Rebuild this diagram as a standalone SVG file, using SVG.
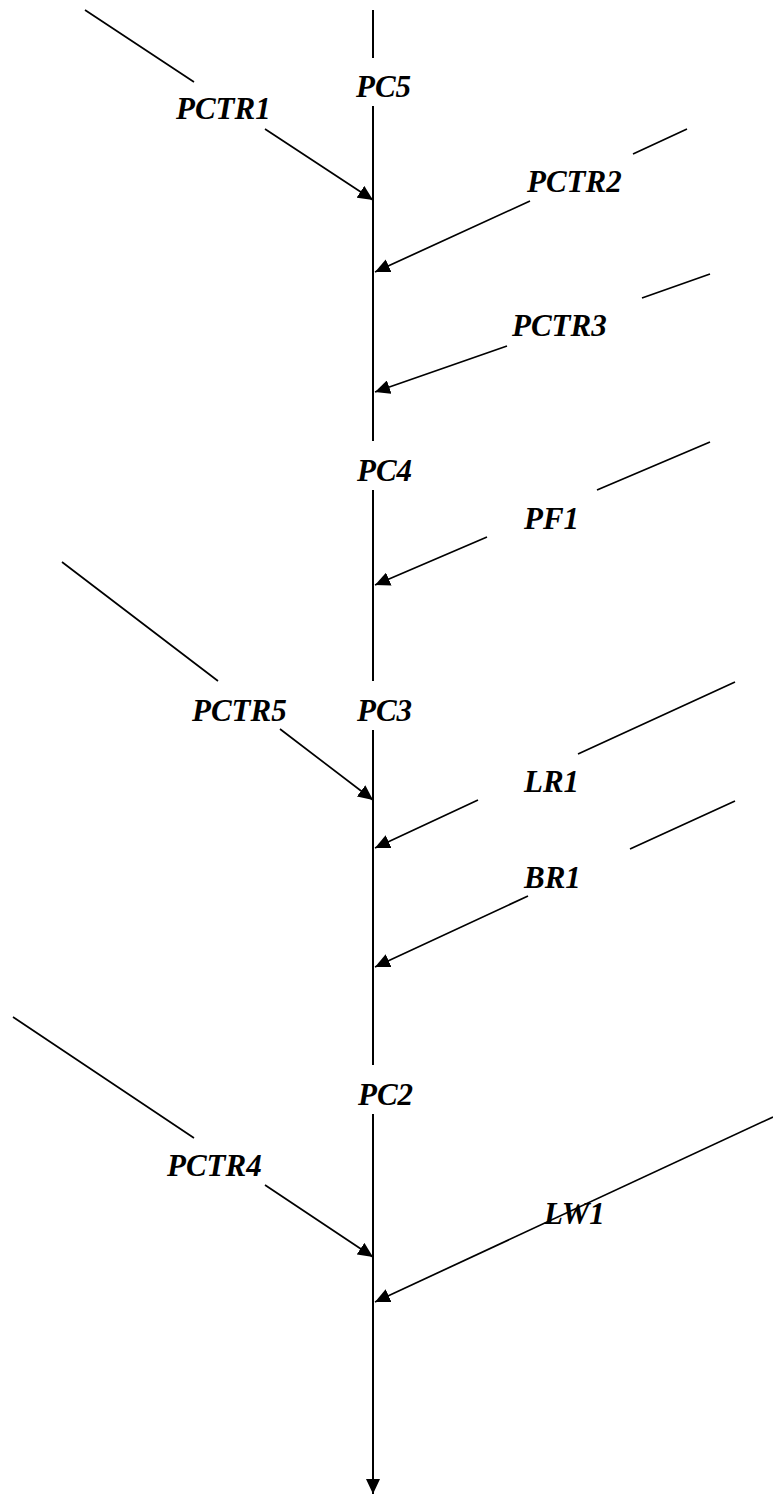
<svg xmlns="http://www.w3.org/2000/svg" width="773" height="1495" viewBox="0 0 773 1495">
<style>
.lbl{font-family:"Liberation Serif","Times New Roman",serif;font-weight:bold;font-style:italic;font-size:31px;fill:#000}
.spine{stroke:#000;stroke-width:2;fill:none}
.edge{stroke:#000;stroke-width:1.7;fill:none}
</style>
<defs>
<marker id="ah" viewBox="0 0 15 14" markerWidth="15" markerHeight="14" refX="15" refY="7" markerUnits="userSpaceOnUse" orient="auto">
<path d="M0,0 L15,7 L0,14 z" fill="#000"/>
</marker>
</defs>
<g id="connectors">
<path class="spine" d="M373,10 L373,58 M373,106 L373,441 M373,490 L373,681 M373,730 L373,1065 M373,1114 L373,1494" marker-end="url(#ah)"/>
<path id="e-pctr1" class="edge" d="M85,10 L194,82 M265,129 L373,200" marker-end="url(#ah)"/>
<path id="e-pctr2" class="edge" d="M687,129 L633,154 M530,201 L375,272" marker-end="url(#ah)"/>
<path id="e-pctr3" class="edge" d="M710,274 L642,298 M507,346 L375,392" marker-end="url(#ah)"/>
<path id="e-pf1" class="edge" d="M710,442 L597,490 M487,537 L375,585" marker-end="url(#ah)"/>
<path id="e-pctr5" class="edge" d="M62,562 L218,681 M280,729 L373,800" marker-end="url(#ah)"/>
<path id="e-lr1" class="edge" d="M735,682 L578,754 M478,800 L375,848" marker-end="url(#ah)"/>
<path id="e-br1" class="edge" d="M735,801 L630,849 M528,896 L375,967" marker-end="url(#ah)"/>
<path id="e-pctr4" class="edge" d="M13,1017 L194,1138 M265,1185 L373,1257" marker-end="url(#ah)"/>
<path id="e-lw1" class="edge" d="M773,1117 L375,1302" marker-end="url(#ah)"/>
</g>
<g id="PC5"><text class="lbl" x="356" y="97">PC5</text></g>
<g id="PC4"><text class="lbl" x="357" y="481">PC4</text></g>
<g id="PC3"><text class="lbl" x="357" y="721">PC3</text></g>
<g id="PC2"><text class="lbl" x="358" y="1105">PC2</text></g>
<g id="PCTR1"><text class="lbl" x="176" y="119">PCTR1</text></g>
<g id="PCTR2"><text class="lbl" x="527" y="192">PCTR2</text></g>
<g id="PCTR3"><text class="lbl" x="512" y="336">PCTR3</text></g>
<g id="PF1"><text class="lbl" x="524" y="529">PF1</text></g>
<g id="PCTR5"><text class="lbl" x="192" y="721">PCTR5</text></g>
<g id="LR1"><text class="lbl" x="524" y="792">LR1</text></g>
<g id="BR1"><text class="lbl" x="524" y="888">BR1</text></g>
<g id="PCTR4"><text class="lbl" x="167" y="1176">PCTR4</text></g>
<g id="LW1"><text class="lbl" x="544" y="1224">LW1</text></g>
</svg>
